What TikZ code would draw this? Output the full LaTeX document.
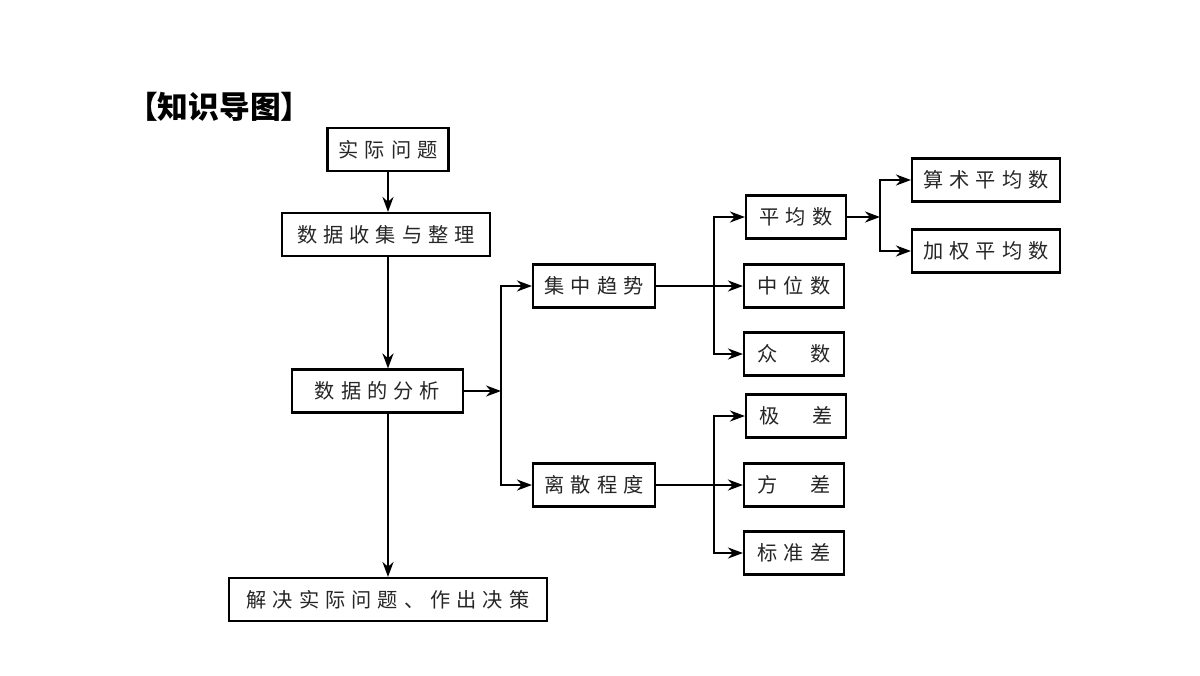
\documentclass[tikz,border=0pt]{standalone}
\usepackage{fontspec}
\setmainfont{Noto Sans CJK SC}
\newfontfamily\boxfont[LetterSpace=30]{Noto Sans CJK SC}
\usepackage{tikz}
\usetikzlibrary{arrows.meta,positioning,calc}

\begin{document}
\begin{tikzpicture}[
 x=1cm,y=1cm,
 box/.style={draw=black,line width=1.2pt,fill=white,align=center,
             minimum height=0.86cm,inner sep=0pt,font=\boxfont\fontsize{11.5pt}{13pt}\selectfont,
             text=black!85},
 flow/.style={-{Stealth[length=3mm,width=2.2mm]},line width=1.3pt}]
\useasboundingbox (0,0) rectangle (24,13.5);
\node[anchor=west,font=\bfseries\fontsize{17.5pt}{19pt}\selectfont] (title) at (2.42,11.36)
 {【知识导图】};
% main column
\node[box,minimum width=2.42cm] (problem) at (7.76,10.51) {实际问题};
\node[box,minimum width=4.16cm] (collect) at (7.72,8.81) {数据收集与整理};
\node[box,minimum width=3.42cm] (analyse) at (7.55,5.68) {数据的分析};
\node[box,minimum width=6.36cm] (decide) at (7.76,1.51) {解决实际问题、作出决策};
\draw[flow] (problem) -- (problem |- collect.north);
\draw[flow] (problem |- collect.south) -- (problem |- analyse.north);
\draw[flow] (problem |- analyse.south) -- (decide);
% two kinds of analysis
\node[box,minimum width=2.44cm] (trend) at (11.88,7.78) {集中趋势};
\node[box,minimum width=2.44cm] (spread) at (11.88,3.80) {离散程度};
\coordinate (split) at (10.02,5.68);
\draw[flow] (analyse) -- (split);
\draw[flow] (split) |- (trend);
\draw[flow] (split) |- (spread);
% central tendency
\node[box,minimum width=2.0cm] (mean) at (15.92,9.16) {平均数};
\node[box,minimum width=2.0cm] (median) at (15.88,7.78) {中位数};
\node[box,minimum width=2.0cm] (mode) at (15.88,6.42) {众　数};
\coordinate (tsplit) at (14.28,7.78);
\draw[flow] (trend) -- (median);
\draw[flow] (tsplit) |- (mean);
\draw[flow] (tsplit) |- (mode);
% dispersion
\node[box,minimum width=2.0cm] (range) at (15.92,5.18) {极　差};
\node[box,minimum width=2.0cm] (variance) at (15.88,3.80) {方　差};
\node[box,minimum width=2.0cm] (stddev) at (15.88,2.44) {标准差};
\coordinate (ssplit) at (14.28,3.80);
\draw[flow] (spread) -- (variance);
\draw[flow] (ssplit) |- (range);
\draw[flow] (ssplit) |- (stddev);
% kinds of mean
\node[box,minimum width=2.96cm] (arith) at (19.72,9.90) {算术平均数};
\node[box,minimum width=2.96cm] (weighted) at (19.72,8.48) {加权平均数};
\coordinate (msplit) at (17.6,9.16);
\draw[flow] (mean) -- (msplit);
\draw[flow] (msplit) |- (arith);
\draw[flow] (msplit) |- (weighted);
\end{tikzpicture}
\end{document}
